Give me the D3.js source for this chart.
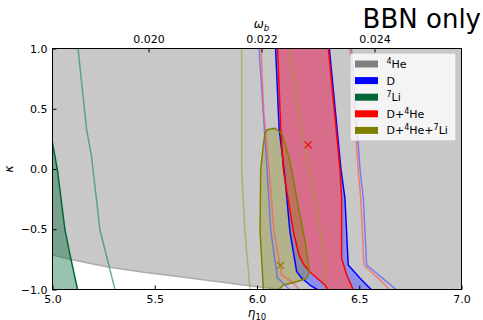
<!DOCTYPE html>
<html>
<head>
<meta charset="utf-8">
<script src="https://cdn.jsdelivr.net/npm/d3@7"></script>
<style>
  html, body { margin: 0; padding: 0; background: #fff; }
  svg { display: block; font-family: "DejaVu Sans", sans-serif; }
</style>
</head>
<body>
<svg id="chart" width="483" height="320"></svg>
<script>
// Axis ticks
const etaTicks = [5.0, 5.5, 6.0, 6.5, 7.0];
const kappaTicks = [-1.0, -0.5, 0.0, 0.5, 1.0];
const omegaTicks = [0.020, 0.022, 0.024];

// Confidence contours in the (eta10, kappa) plane, as [eta10, kappa] points
// 4He: lower edge of the allowed band (everything above it is allowed)
const he4Edge = [[4.95,-0.69],[5.0,-0.714],[5.102,-0.755],[5.265,-0.811],[5.428,-0.852],[5.623,-0.894],[5.868,-0.949],[5.999,-0.977],[6.152,-1.004],[6.3,-1.03]];
// 7Li: 1-sigma edge (allowed region lies to its left) and 2-sigma edge
const li1 = [[4.98,0.40],[5.0,0.216],[5.024,-0.008],[5.061,-0.506],[5.086,-0.714],[5.123,-1.004],[5.13,-1.06]];
const li2 = [[5.118,1.06],[5.125,0.996],[5.167,0.324],[5.190,0.116],[5.232,-0.506],[5.306,-1.004],[5.32,-1.08]];
// D: 1-sigma and 2-sigma band edges
const d1Left  = [[6.088,1.06],[6.091,0.996],[6.108,0.338],[6.137,-0.075],[6.161,-0.520],[6.194,-0.852],[6.219,-0.907],[6.259,-0.963],[6.298,-1.004],[6.33,-1.04]];
const d1Right = [[6.351,1.06],[6.354,0.996],[6.411,-0.008],[6.430,-0.243],[6.446,-0.797],[6.504,-0.907],[6.561,-1.004],[6.59,-1.04]];
const d2Left  = [[6.008,1.06],[6.010,0.996],[6.049,0.0],[6.068,-0.520],[6.100,-0.905],[6.137,-0.963],[6.161,-1.004],[6.19,-1.04]];
const d2Right = [[6.459,1.06],[6.462,0.996],[6.504,-0.008],[6.520,-0.243],[6.536,-0.797],[6.634,-0.935],[6.683,-1.004],[6.72,-1.04]];
// D + 4He: 1-sigma and 2-sigma band edges
const dhe1Left  = [[6.099,1.06],[6.101,0.996],[6.116,0.338],[6.129,-0.008],[6.178,-0.520],[6.205,-0.714],[6.230,-0.797],[6.259,-0.855],[6.298,-0.913],[6.333,-0.963],[6.347,-1.004],[6.37,-1.04]];
const dhe1Right = [[6.346,1.06],[6.349,0.996],[6.406,-0.008],[6.414,-0.243],[6.414,-0.741],[6.439,-0.880],[6.471,-1.004],[6.49,-1.04]];
const dhe2Left  = [[6.018,1.06],[6.020,0.996],[6.033,0.476],[6.059,0.0],[6.083,-0.520],[6.121,-0.880],[6.170,-0.935],[6.210,-1.004],[6.24,-1.04]];
const dhe2Right = [[6.452,1.06],[6.455,0.996],[6.495,-0.008],[6.507,-0.243],[6.523,-0.797],[6.610,-0.935],[6.650,-1.004],[6.68,-1.04]];
// D + 4He + 7Li: closed 1-sigma contour and the two 2-sigma edges
const all1 = [[6.039,0.296],[6.050,0.325],[6.088,0.338],[6.121,0.296],[6.153,0.116],[6.170,-0.008],[6.194,-0.243],[6.235,-0.603],[6.256,-0.852],[6.243,-0.907],[6.194,-0.935],[6.129,-0.963],[6.104,-1.004],[6.09,-1.06],[6.03,-1.06],[6.031,-0.990],[6.015,-0.520],[6.018,-0.008],[6.031,0.199]];
const all2Left  = [[5.925,1.06],[5.925,0.996],[5.925,-0.008],[5.941,-0.520],[5.966,-1.004],[5.975,-1.06]];
const all2Right = [[6.153,1.06],[6.156,0.996],[6.205,0.473],[6.254,-0.008],[6.298,-0.382],[6.333,-0.797],[6.325,-1.004],[6.322,-1.06]];
// Best-fit points
const bestDHe = [6.25, 0.2];
const bestAll = [6.115, -0.8];

// Legend
const legendLabels = ["^4He", "D", "^7Li", "D+^4He", "D+^4He+^7Li"];
const legendColors = ["#808080", "#0000ff", "#006837", "#ff0000", "#808000"];

const svg = d3.select("#chart");
const x = d3.scaleLinear().domain([5, 7]).range([52.5, 461.5]);
const y = d3.scaleLinear().domain([-1, 1]).range([289.5, 48.5]);
const xTop = d3.scaleLinear().domain([0.01830, 0.02554]).range([52.5, 461.5]);

svg.append("defs").append("clipPath").attr("id", "plot-clip")
  .append("rect")
  .attr("x", x(5)).attr("y", y(1))
  .attr("width", x(7) - x(5)).attr("height", y(-1) - y(1));

const plot = svg.append("g").attr("clip-path", "url(#plot-clip)");
const line = d3.line().x(d => x(d[0])).y(d => y(d[1]));
const closed = d3.line().x(d => x(d[0])).y(d => y(d[1])).curve(d3.curveLinearClosed);
const band = (l, r) => l.concat(r.slice().reverse());

// 4He allowed region
plot.append("path")
  .attr("d", closed(he4Edge.concat([[7.1,-1.03],[7.1,1.1],[4.95,1.1]])))
  .attr("fill", "rgb(128,128,128)").attr("fill-opacity", 0.43);
plot.append("path").attr("d", line(he4Edge))
  .attr("fill", "none").attr("stroke", "#acacac").attr("stroke-width", 1.5);

// 7Li
plot.append("path")
  .attr("d", closed(li1.concat([[4.9,-1.06],[4.9,0.40]])))
  .attr("fill", "rgb(0,104,55)").attr("fill-opacity", 0.4);

// D and D+4He filled 1-sigma bands
plot.append("path").attr("d", closed(band(d1Left, d1Right)))
  .attr("fill", "rgb(110,110,255)").attr("fill-opacity", 0.65);
plot.append("path").attr("d", closed(band(dhe1Left, dhe1Right)))
  .attr("fill", "rgb(255,90,88)").attr("fill-opacity", 0.65);

// D+4He+7Li filled 1-sigma region
plot.append("path").attr("d", closed(all1))
  .attr("fill", "rgb(128,128,0)").attr("fill-opacity", 0.3);

// 2-sigma edges
const soft = (data, color, op) => plot.append("path").attr("d", line(data))
  .attr("fill", "none").attr("stroke", color).attr("stroke-opacity", op)
  .attr("stroke-width", 1.5).attr("stroke-linejoin", "round");
soft(li2, "rgb(40,150,90)", 0.7);
soft(all2Left, "rgb(160,160,40)", 0.6);
soft(all2Right, "rgb(160,160,40)", 0.6);
soft(d2Left, "rgb(90,90,255)", 0.7);
soft(d2Right, "rgb(90,90,255)", 0.7);
soft(dhe2Left, "rgb(255,90,90)", 0.7);
soft(dhe2Right, "rgb(255,90,90)", 0.7);

// 1-sigma edges
const hard = (data, color, isClosed) => plot.append("path")
  .attr("d", isClosed ? closed(data) : line(data))
  .attr("fill", "none").attr("stroke", color)
  .attr("stroke-width", 1.5).attr("stroke-linejoin", "round");
hard(li1, "#006837");
hard(d1Left, "#0000ff");
hard(d1Right, "#0000ff");
hard(dhe1Left, "#ff0000");
hard(dhe1Right, "#ff0000");
hard(all1, "#808000", true);

// Best-fit markers
const cross = (p, color) => {
  const cx = x(p[0]), cy = y(p[1]), s = 3.5;
  plot.append("path")
    .attr("d", `M${cx - s},${cy - s}L${cx + s},${cy + s}M${cx - s},${cy + s}L${cx + s},${cy - s}`)
    .attr("stroke", color).attr("stroke-width", 1.2).attr("fill", "none");
};
cross(bestDHe, "#ff0000");
cross(bestAll, "#808000");

// Frame
svg.append("rect")
  .attr("x", x(5)).attr("y", y(1))
  .attr("width", x(7) - x(5)).attr("height", y(-1) - y(1))
  .attr("fill", "none").attr("stroke", "#000").attr("stroke-width", 1);

// Axes with inward ticks
const fmt = d3.format(".1f");
const minus = s => s.replace("-", "\u2212");
const axBottom = svg.append("g").attr("transform", `translate(0,${y(-1)})`)
  .call(d3.axisBottom(x).tickValues(etaTicks).tickSizeInner(-4).tickSizeOuter(0).tickPadding(6).tickFormat(fmt));
const axLeft = svg.append("g").attr("transform", `translate(${x(5)},0)`)
  .call(d3.axisLeft(y).tickValues(kappaTicks).tickSizeInner(-4).tickSizeOuter(0).tickPadding(5).tickFormat(d => minus(fmt(d))));
const axTop = svg.append("g").attr("transform", `translate(0,${y(1)})`)
  .call(d3.axisTop(xTop).tickValues(omegaTicks).tickSizeInner(-4).tickSizeOuter(0).tickPadding(6).tickFormat(d3.format(".3f")));
[axBottom, axLeft, axTop].forEach(g => {
  g.select(".domain").remove();
  g.selectAll("text").attr("font-size", 11).attr("fill", "#000")
    .attr("font-family", "DejaVu Sans, sans-serif");
  g.selectAll("line").attr("stroke", "#000");
});

// Axis titles
const xt = svg.append("text").attr("x", x(6)).attr("y", 317)
  .attr("text-anchor", "middle").attr("font-size", 12);
xt.append("tspan").attr("font-style", "italic").text("\u03b7");
xt.append("tspan").attr("font-size", 8.5).attr("dy", 2.5).text("10");

svg.append("text").attr("transform", `translate(13,${y(0)}) rotate(-90)`)
  .attr("text-anchor", "middle").attr("font-size", 12).attr("font-style", "italic").text("\u03ba");

const tt = svg.append("text").attr("x", xTop(0.022)).attr("y", 28)
  .attr("text-anchor", "middle").attr("font-size", 12);
tt.append("tspan").attr("font-style", "italic").text("\u03c9");
tt.append("tspan").attr("font-style", "italic").attr("font-size", 8.5).attr("dy", 2.5).text("b");

svg.append("text").attr("x", 481).attr("y", 28).attr("text-anchor", "end")
  .attr("font-size", 26).attr("fill", "#000").text("BBN only");

// Legend
const lg = svg.append("g");
lg.append("rect").attr("x", 350.5).attr("y", 53.5).attr("width", 105).attr("height", 87)
  .attr("rx", 2).attr("fill", "#fff").attr("fill-opacity", 0.8)
  .attr("stroke", "#d6d6d6").attr("stroke-width", 1);
legendLabels.forEach((lab, i) => {
  const cy = 64 + i * 16.6;
  lg.append("rect").attr("x", 355).attr("y", cy - 3.5).attr("width", 23).attr("height", 7)
    .attr("fill", legendColors[i]);
  const t = lg.append("text").attr("x", 386.5).attr("y", cy + 4).attr("font-size", 11);
  let raised = false;
  lab.split(/(\^\d)/).filter(s => s.length).forEach(part => {
    if (part[0] === "^") {
      t.append("tspan").attr("font-size", 8).attr("dy", -4).text(part.slice(1));
      raised = true;
    } else {
      const sp = t.append("tspan").text(part);
      if (raised) { sp.attr("dy", 4); raised = false; }
    }
  });
});
</script>
</body>
</html>
